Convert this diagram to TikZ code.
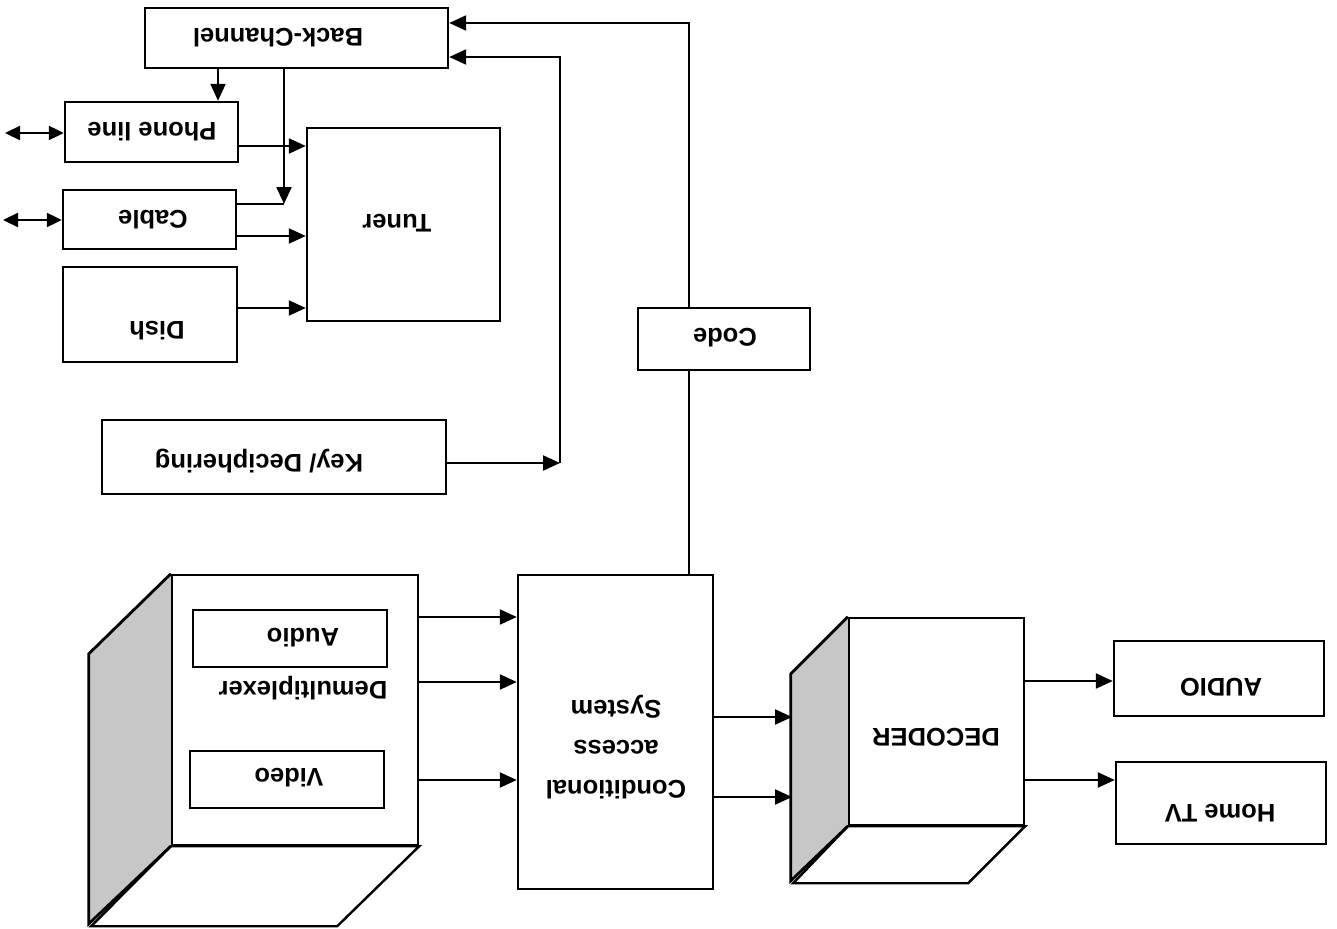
\documentclass[tikz,border=0pt]{standalone}
\usepackage{fontspec}
\setmainfont{Liberation Sans}
\usetikzlibrary{arrows.meta}
\tikzset{
  blk/.style={draw, line width=2.4pt, rectangle, inner sep=0pt, fill=white},
  lbl/.style={rotate=180, font=\bfseries\fontsize{25.5}{40}\selectfont, inner sep=0pt, align=center},
  arr/.style={line width=2.2pt, -{Triangle[length=17pt,width=15pt]}},
  dbl/.style={line width=2.2pt, {Triangle[length=15pt,width=14pt]}-{Triangle[length=15pt,width=14pt]}},
  wire/.style={line width=2.2pt},
  sideface/.style={draw, line width=2.8pt, line join=miter},
  bottomface/.style={draw, line width=2.4pt, fill=white, line join=miter},
}
\begin{document}
\begin{tikzpicture}[x=1pt, y=-1pt]
\useasboundingbox (0,0) rectangle (1337,928);

% ---- boxes (drawn rotated half a turn) ----
\node[blk, minimum width=303pt, minimum height=60pt]  (bc)     at (296.5,38)    {};
\node[blk, minimum width=173pt, minimum height=60pt]  (phone)  at (151.5,132)   {};
\node[blk, minimum width=173pt, minimum height=59pt]  (cable)  at (149.5,219.5) {};
\node[blk, minimum width=174pt, minimum height=95pt]  (dish)   at (150,314.5)   {};
\node[blk, minimum width=193pt, minimum height=193pt] (tuner)  at (403.5,224.5) {};
\node[blk, minimum width=172pt, minimum height=62pt]  (code)   at (724,339)     {};
\node[blk, minimum width=344pt, minimum height=74pt]  (key)    at (274,457)     {};
\node[blk, minimum width=195pt, minimum height=314pt] (cas)    at (615.5,732)   {};
\node[blk, minimum width=210pt, minimum height=75pt]  (audio)  at (1219,678.5)  {};
\node[blk, minimum width=210pt, minimum height=82pt]  (hometv) at (1221,803)    {};

% ---- demultiplexer block with its depth faces ----
\node[blk, minimum width=246pt, minimum height=270pt] (demux) at (295,710) {};
\fill[black!22] (demux.north west) -- ++(-82,80) -- ++(0,270) -- (demux.south west) -- cycle;
\draw[bottomface] (demux.south west) -- (demux.south east) -- ++(-82,80) -- ++(-246,0) -- cycle;
\draw[sideface] (demux.north west) -- ++(-82,80) -- ++(0,270) -- (demux.south west);
\node[blk, minimum width=246pt, minimum height=270pt] at (demux) {};
\node[blk, minimum width=194pt, minimum height=57pt] (dmaudio) at (290,638.5) {};
\node[blk, minimum width=194pt, minimum height=57pt] (dmvideo) at (287,779.5) {};

% ---- decoder block with its depth faces ----
\node[blk, minimum width=175pt, minimum height=207pt] (decoder) at (936.5,721.5) {};
\fill[black!22] (decoder.north west) -- ++(-57,57) -- ++(0,207) -- (decoder.south west) -- cycle;
\draw[bottomface] (decoder.south west) -- (decoder.south east) -- ++(-57,57) -- ++(-175,0) -- cycle;
\draw[sideface] (decoder.north west) -- ++(-57,57) -- ++(0,207) -- (decoder.south west);
\node[blk, minimum width=175pt, minimum height=207pt] at (decoder) {};

% ---- labels ----
\node[lbl] (tbc)     at (278,38)   {Back-Channel};
\node[lbl] (tphone)  at (152,132)  {Phone line};
\node[lbl] (tcable)  at (153,220)  {Cable};
\node[lbl] (tdish)   at (157,331)  {Dish};
\node[lbl] (ttuner)  at (397,223)  {Tuner};
\node[lbl] (tcode)   at (725,338)  {Code};
\node[lbl] (tkey)    at (259,461)  {Key/ Deciphering};
\node[lbl] (tdmaud)  at (303,638)  {Audio};
\node[lbl] (tdemux)  at (303,688)  {Demultiplexer};
\node[lbl] (tdmvid)  at (289,778)  {Video};
\node[lbl] (tcas)    at (616,747)  {Conditional\\access\\System};
\node[lbl] (tdec)    at (936,737)  {DECODER};
\node[lbl] (taudio)  at (1221,687) {AUDIO};
\node[lbl] (thometv) at (1220,813) {Home TV};

% ---- rails for the connectors ----
\coordinate (r1) at (218,0);
\coordinate (r2) at (284,204);
\coordinate (t1) at (0,146);
\coordinate (t2) at (0,236);
\coordinate (t3) at (0,308);
\coordinate (pl) at (5,133);
\coordinate (cl) at (3,220);
\coordinate (c1) at (689,23);
\coordinate (k1) at (560,463);
\coordinate (k2) at (560,57);
\coordinate (d1) at (0,617);
\coordinate (d2) at (0,682);
\coordinate (d3) at (0,780);
\coordinate (dside) at (792,0);
\coordinate (e1) at (0,717);
\coordinate (e2) at (0,797);
\coordinate (o1) at (0,681);
\coordinate (o2) at (0,780);

% ---- connectors ----
\draw[arr] (bc.south -| r1) -- (phone.north -| r1);
\draw[arr] (bc.south -| r2) -- (r2);
\draw[wire] (cable.east |- r2) -- (r2);
\draw[arr] (phone.east |- t1) -- (tuner.west |- t1);
\draw[arr] (cable.east |- t2) -- (tuner.west |- t2);
\draw[arr] (dish.east |- t3) -- (tuner.west |- t3);
\draw[dbl] (pl) -- (phone.west |- pl);
\draw[dbl] (cl) -- (cable.west |- cl);

\draw[arr] (code.north -| c1) -- (c1) -- (bc.east |- c1);
\draw[wire] (cas.north -| c1) -- (code.south -| c1);
\draw[arr] (key.east |- k1) -- (k1);
\draw[arr] (k1) -- (k2) -- (bc.east |- k2);

\draw[arr] (demux.east |- d1) -- (cas.west |- d1);
\draw[arr] (demux.east |- d2) -- (cas.west |- d2);
\draw[arr] (demux.east |- d3) -- (cas.west |- d3);
\draw[arr] (cas.east |- e1) -- (dside |- e1);
\draw[arr] (cas.east |- e2) -- (dside |- e2);
\draw[arr] (decoder.east |- o1) -- (audio.west |- o1);
\draw[arr] (decoder.east |- o2) -- (hometv.west |- o2);
\end{tikzpicture}
\end{document}
